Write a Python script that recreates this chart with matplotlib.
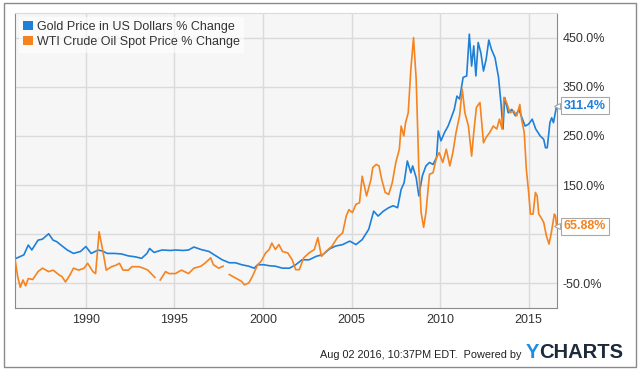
import numpy as np
import matplotlib
matplotlib.use("Agg")
import matplotlib.pyplot as plt
from matplotlib.patches import Patch, Rectangle

plt.rcParams['font.family'] = ['Liberation Sans', 'DejaVu Sans']

nan = np.nan

# gold price, % change since Jan 1986
gold_years = [1986.0, 1986.25, 1986.5, 1986.75, 1986.95, 1987.3, 1987.55, 1987.9,
              1988.15, 1988.35, 1988.7, 1988.95, 1989.3, 1989.7, 1990.0, 1990.3,
              1990.7, 1991.0, 1991.2, 1991.6, 1992.0, 1992.4, 1992.8, 1993.15,
              1993.45, 1993.6, 1993.85, 1994.3, 1994.8, 1995.05, 1995.5, 1995.8,
              1996.1, 1996.5, 1996.95, 1997.3, 1997.7, 1998.1, 1998.45, 1998.8,
              1999.2, 1999.5, 1999.7, 2000.05, 2000.35, 2000.7, 2001.1, 2001.5,
              2001.85, 2002.2, 2002.6, 2003.0, 2003.4, 2003.75, 2004.1, 2004.5,
              2004.9, 2005.25, 2005.6, 2005.97, 2006.25, 2006.5, 2006.8, 2007.1,
              2007.35, 2007.6, 2007.8, 2007.97, 2008.15, 2008.35, 2008.45, 2008.65,
              2008.8, 2009.0, 2009.2, 2009.4, 2009.6, 2009.8, 2009.9, 2010.05,
              2010.25, 2010.45, 2010.6, 2010.8, 2010.95, 2011.1, 2011.3, 2011.5,
              2011.65, 2011.78, 2011.9, 2012.02, 2012.15, 2012.3, 2012.45, 2012.6,
              2012.75, 2012.9, 2013.1, 2013.3, 2013.45, 2013.55, 2013.65, 2013.85,
              2014.05, 2014.25, 2014.45, 2014.65, 2014.8, 2015.0, 2015.2, 2015.4,
              2015.65, 2015.85, 2015.95, 2016.05, 2016.2, 2016.3, 2016.4, 2016.58]
gold_pct = [0, 4, 8, 28, 18, 38, 40, 51,
            38, 35, 25, 18, 11, 15, 25, 11,
            18, 15, 11, 11, 10, 6, 4, 1,
            11, 21, 13, 18, 17, 18, 17, 18,
            24, 19, 15, 7, -2, -8, -8, -12,
            -15, -19, -12, -12, -14, -15, -19, -19,
            -12, -2, -2, 5, 9, 20, 26, 29,
            36, 29, 39, 60, 97, 87, 97, 104,
            108, 104, 141, 155, 199, 175, 189, 165,
            128, 169, 189, 196, 192, 206, 260, 240,
            257, 270, 284, 304, 331, 325, 369, 372,
            457, 392, 433, 372, 440, 419, 382, 406,
            445, 426, 409, 369, 311, 264, 328, 297,
            304, 291, 304, 284, 270, 274, 284, 264,
            250, 243, 226, 226, 277, 287, 277, 311.4]

# WTI crude oil spot price, % change since Jan 1986 (gaps where the line breaks)
oil_years = [1986.0, 1986.15, 1986.3, 1986.45, 1986.6, 1986.75, 1987.0, 1987.3,
             1987.55, 1987.9, 1988.15, 1988.5, 1988.65, 1988.85, 1989.1, 1989.3,
             1989.6, 1989.9, 1990.1, 1990.4, 1990.55, 1990.75, 1990.95, 1991.15,
             1991.45, 1991.7, 1991.9, 1992.1, 1992.4, 1992.6, 1993.0, 1993.25,
             1993.5, 1993.9, 1994.05, 1994.2, 1994.5, 1994.7, 1995.05, 1995.4,
             1995.8, 1996.1, 1996.5, 1996.75, 1997.05, 1997.2, 1997.5, 1997.75,
             1997.9, 1998.1, 1998.45, 1998.8, 1998.95, 1999.2, 1999.4, 1999.7,
             1999.9, 2000.15, 2000.35, 2000.5, 2000.7, 2000.9, 2001.1, 2001.4,
             2001.65, 2001.85, 2002.05, 2002.3, 2002.6, 2002.9, 2003.1, 2003.3,
             2003.55, 2003.9, 2004.2, 2004.5, 2004.7, 2004.85, 2005.05, 2005.25,
             2005.45, 2005.6, 2005.85, 2006.1, 2006.2, 2006.4, 2006.55, 2006.7,
             2006.9, 2007.1, 2007.3, 2007.5, 2007.7, 2007.8, 2007.95, 2008.05,
             2008.2, 2008.35, 2008.5, 2008.65, 2008.8, 2008.93, 2009.07, 2009.2,
             2009.4, 2009.6, 2009.8, 2009.95, 2010.15, 2010.35, 2010.55, 2010.72,
             2010.9, 2011.1, 2011.25, 2011.4, 2011.6, 2011.78, 2011.9, 2012.05,
             2012.25, 2012.45, 2012.6, 2012.8, 2013.0, 2013.2, 2013.35, 2013.5,
             2013.6, 2013.75, 2013.95, 2014.15, 2014.33, 2014.5, 2014.6, 2014.75,
             2014.87, 2015.0, 2015.1, 2015.25, 2015.38, 2015.48, 2015.57, 2015.7,
             2015.85, 2016.0, 2016.15, 2016.28, 2016.45, 2016.52, 2016.58]
oil_pct = [0, -36, -58, -43, -55, -40, -42, -26,
           -19, -26, -23, -33, -36, -47, -33, -19,
           -23, -19, -9, -26, -30, 55, 18, -23,
           -16, -13, -9, -23, -23, -16, -16, -19,
           -23, -38, nan, -43, -26, -30, -30, -23,
           -30, -19, -15, -8, 2, -12, -19, -15,
           nan, -32, -39, -46, -53, -49, -36, -12,
           -5, 12, 19, 32, 19, 29, 15, 12,
           -2, -22, -22, 2, 12, 19, 43, 5,
           15, 26, 43, 53, 87, 100, 94, 111,
           114, 168, 128, 162, 186, 192, 189, 162,
           135, 131, 155, 196, 223, 270, 250, 277,
           297, 386, 450, 365, 182, 94, 64, 94,
           172, 175, 206, 216, 196, 223, 189, 216,
           257, 291, 345, 297, 270, 209, 257, 308,
           318, 236, 247, 257, 270, 264, 284, 264,
           328, 318, 297, 301, 291, 314, 284, 257,
           182, 135, 91, 91, 135, 128, 91, 84,
           74, 47, 30, 53, 91, 87, 65.88]

year_ticks = [1990, 1995, 2000, 2005, 2010, 2015]
pct_ticks = [-50, 50, 150, 250, 350, 450]
pct_labels = ['-50.0%', '50.0%', '150.0%', '250.0%', '350.0%', '450.0%']

series_names = ['Gold Price in US Dollars % Change', 'WTI Crude Oil Spot Price % Change']
last_labels = ['311.4%', '65.88%']

BLUE = '#1f80d8'
ORANGE = '#f5841f'
W, H = 640, 373

fig = plt.figure(figsize=(W / 100, H / 100), dpi=100)
ax = fig.add_axes([15 / W, 1 - 308 / H, (557 - 15) / W, (308 - 13) / H])
ax.set_facecolor('#f6f6f6')

ax.plot(gold_years, gold_pct, color=BLUE, lw=1.2, zorder=3)
ax.plot(oil_years, oil_pct, color=ORANGE, lw=1.2, zorder=3)

ax.set_xlim(1986.0, 2016.6)
ax.set_ylim(-100, 500)
ax.set_xticks(year_ticks)
ax.set_xticklabels([str(y) for y in year_ticks])
ax.set_yticks(pct_ticks)
ax.set_yticklabels(pct_labels)
ax.yaxis.tick_right()
ax.tick_params(length=0, labelsize=9, colors='#333333', pad=4)
ax.grid(color='#dadada', lw=1, zorder=0)
for side in ['left', 'bottom', 'right']:
    ax.spines[side].set_color('#8a8a8a')
ax.spines['top'].set_color('#dadada')

# the flag for oil sits on top of the 50.0% label, as in the original
ax.get_yticklabels()[1].set_visible(False)

# last value flags on the right edge
for val, col, txt in zip([gold_pct[-1], oil_pct[-1]], [BLUE, ORANGE], last_labels):
    ax.annotate(txt, xy=(1.0, val), xycoords=('axes fraction', 'data'),
                xytext=(5, 0), textcoords='offset points', ha='left', va='center',
                fontsize=9, fontweight='bold', color=col, zorder=6,
                annotation_clip=False,
                bbox=dict(boxstyle='square,pad=0.22', fc='white', ec='#a8a8a8', lw=0.8))
    ax.plot([1.0], [val], marker='<', ms=5, mfc='white', mec='#a8a8a8', mew=0.8,
            transform=ax.get_yaxis_transform(), clip_on=False, zorder=7)

handles = [Patch(facecolor=BLUE, edgecolor='none'), Patch(facecolor=ORANGE, edgecolor='none')]
leg = ax.legend(handles, series_names, loc='upper left', fontsize=9,
                handlelength=0.75, handleheight=0.75, handletextpad=0.35,
                labelspacing=0.25, borderaxespad=0.3, borderpad=0.35,
                frameon=True, fancybox=False, facecolor='white', framealpha=0.6,
                edgecolor='none')
for t in leg.get_texts():
    t.set_color('#333333')

# footer
fig.text(521 / W, 1 - 355 / H, 'Aug 02 2016, 10:37PM EDT.  Powered by',
         fontsize=7.8, color='#222222', va='center', ha='right')
ty = fig.text(526 / W, 1 - 353 / H, 'Y', fontsize=14.5, fontweight='bold',
              color='#1f8ee0', va='center', ha='left')
fig.canvas.draw()
bb = ty.get_window_extent()
fig.text(bb.x1 / W, 1 - 353 / H, 'CHARTS', fontsize=14.5, fontweight='bold',
         color='#1c2a3a', va='center', ha='left')

fig.patches.append(Rectangle((4 / W, 6 / H), 632 / W, 364 / H, transform=fig.transFigure,
                             fill=False, ec='#8a8a8a', lw=1))

fig.savefig('out.png', dpi=100)
